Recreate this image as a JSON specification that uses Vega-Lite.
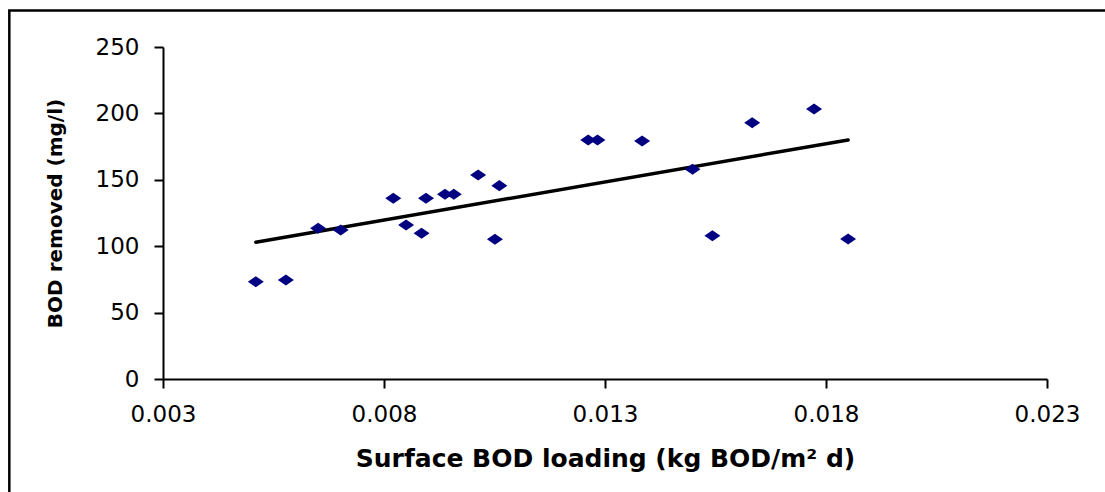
{
  "$schema": "https://vega.github.io/schema/vega-lite/v6.json",
  "autosize": {"type": "none"},
  "padding": {"left": 163, "top": 47, "right": 58, "bottom": 113},
  "width": 884,
  "height": 332,
  "background": "white",
  "config": {
    "view": {"stroke": null},
    "axis": {
      "grid": false,
      "domainColor": "black",
      "domainWidth": 2,
      "tickColor": "black",
      "tickWidth": 2,
      "tickSize": 9,
      "labelColor": "black",
      "labelFont": "DejaVu Sans",
      "labelFontSize": 23,
      "titleColor": "black",
      "titleFont": "DejaVu Sans",
      "titleFontWeight": "bold"
    }
  },
  "datasets": {
    "points": [
      {"loading": 0.00510, "removed": 73.3},
      {"loading": 0.00578, "removed": 74.5},
      {"loading": 0.00651, "removed": 113.5},
      {"loading": 0.00702, "removed": 112.2},
      {"loading": 0.00821, "removed": 136.1},
      {"loading": 0.00850, "removed": 116.0},
      {"loading": 0.00885, "removed": 109.7},
      {"loading": 0.00895, "removed": 136.1},
      {"loading": 0.00938, "removed": 139.1},
      {"loading": 0.00958, "removed": 139.1},
      {"loading": 0.01013, "removed": 153.6},
      {"loading": 0.01051, "removed": 105.2},
      {"loading": 0.01061, "removed": 145.6},
      {"loading": 0.01262, "removed": 180.0},
      {"loading": 0.01283, "removed": 180.0},
      {"loading": 0.01384, "removed": 179.2},
      {"loading": 0.01498, "removed": 157.9},
      {"loading": 0.01543, "removed": 107.9},
      {"loading": 0.01633, "removed": 193.0},
      {"loading": 0.01773, "removed": 203.3},
      {"loading": 0.01850, "removed": 105.4}
    ],
    "trend": [
      {"loading": 0.00510, "removed": 103},
      {"loading": 0.01850, "removed": 180}
    ],
    "frame": [{"x1": -0.000477, "x2": 0.04, "y1": 277.5, "y2": -300}]
  },
  "layer": [
    {
      "data": {"name": "frame"},
      "mark": {"type": "rect", "fill": null, "stroke": "black", "strokeWidth": 2.5, "clip": false},
      "encoding": {
        "x": {"field": "x1", "type": "quantitative", "scale": {"domain": [0.003, 0.023]}},
        "x2": {"field": "x2"},
        "y": {"field": "y1", "type": "quantitative", "scale": {"domain": [0, 250]}},
        "y2": {"field": "y2"}
      }
    },
    {
      "data": {"name": "trend"},
      "mark": {"type": "line", "color": "black", "strokeWidth": 3.5, "strokeCap": "round"},
      "encoding": {
        "x": {"field": "loading", "type": "quantitative"},
        "y": {"field": "removed", "type": "quantitative"}
      }
    },
    {
      "data": {"name": "points"},
      "mark": {"type": "point", "filled": true, "color": "#000080", "opacity": 1, "shape": "M-1,0L0,-0.69L1,0L0,0.69Z", "size": 256},
      "encoding": {
        "x": {
          "field": "loading",
          "type": "quantitative",
          "scale": {"domain": [0.003, 0.023], "nice": false, "zero": false},
          "axis": {
            "title": "Surface BOD loading (kg BOD/m² d)",
            "titleFontSize": 25,
            "titlePadding": 20,
            "values": [0.003, 0.008, 0.013, 0.018, 0.023],
            "format": ".3f",
            "labelPadding": 15,
            "labelFlush": false
          }
        },
        "y": {
          "field": "removed",
          "type": "quantitative",
          "scale": {"domain": [0, 250], "nice": false, "zero": true},
          "axis": {
            "title": "BOD removed (mg/l)",
            "titleFontSize": 20,
            "titlePadding": 30,
            "values": [0, 50, 100, 150, 200, 250],
            "labelPadding": 15,
            "labelFlush": false
          }
        }
      }
    }
  ]
}
